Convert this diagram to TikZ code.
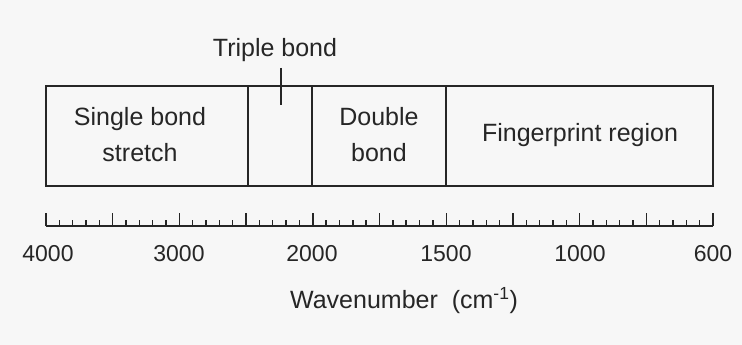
\documentclass[tikz,border=0pt]{standalone}
\usepackage{fontspec}
\setmainfont{Liberation Sans}
\begin{document}
\begin{tikzpicture}[x=1pt,y=-1pt,
  ln/.style={line width=1.4pt,draw=black!85},
  lab/.style={font=\fontsize{25}{32}\selectfont,text=black!85,inner sep=0pt,align=center},
  num/.style={font=\fontsize{23}{25}\selectfont,text=black!85,inner sep=0pt}]
\fill[black!3] (0,0) rectangle (742,345);
\useasboundingbox (0,0) rectangle (742,345);
% box
\coordinate (tl) at (46,86);
\coordinate (br) at (713,186);
\draw[ln] (tl) rectangle (br);
\coordinate (d1t) at (248,86); \coordinate (d1b) at (248,186);
\coordinate (d2t) at (312,86); \coordinate (d2b) at (312,186);
\coordinate (d3t) at (446,86); \coordinate (d3b) at (446,186);
\draw[ln] (d1t) -- (d1b);
\draw[ln] (d2t) -- (d2b);
\draw[ln] (d3t) -- (d3b);
% triple bond marker
\node[lab] (tb) at (275,50) {Triple bond};
\coordinate (tk1) at (281,68);
\coordinate (tk2) at (281,105);
\draw[ln] (tk1) -- (tk2);
\node[lab] (sb) at (140,135) {Single bond\\[4pt]stretch};
\node[lab] (db) at (379,135) {Double\\[4pt]bond};
\node[lab] (fp) at (580,135) {Fingerprint region};
% axis
\coordinate (a0) at (46,226);
\coordinate (a1) at (713,226);
\draw[ln] (a0) -- (a1);
\foreach \i in {0,...,50}{
  \pgfmathtruncatemacro{\m}{mod(\i,5)}
  \ifnum\m=0
    \draw[ln] (46+\i*13.34,226) -- (46+\i*13.34,213);
  \else
    \draw[ln] (46+\i*13.34,226) -- (46+\i*13.34,220);
  \fi
}
\node[num] (n4000) at (48,254) {4000};
\node[num] (n3000) at (179,254) {3000};
\node[num] (n2000) at (312,254) {2000};
\node[num] (n1500) at (446,254) {1500};
\node[num] (n1000) at (580,254) {1000};
\node[num] (n600) at (713,254) {600};
\node[lab] (wn) at (404,301) {Wavenumber\ \ (cm\textsuperscript{-1})};
\end{tikzpicture}
\end{document}
